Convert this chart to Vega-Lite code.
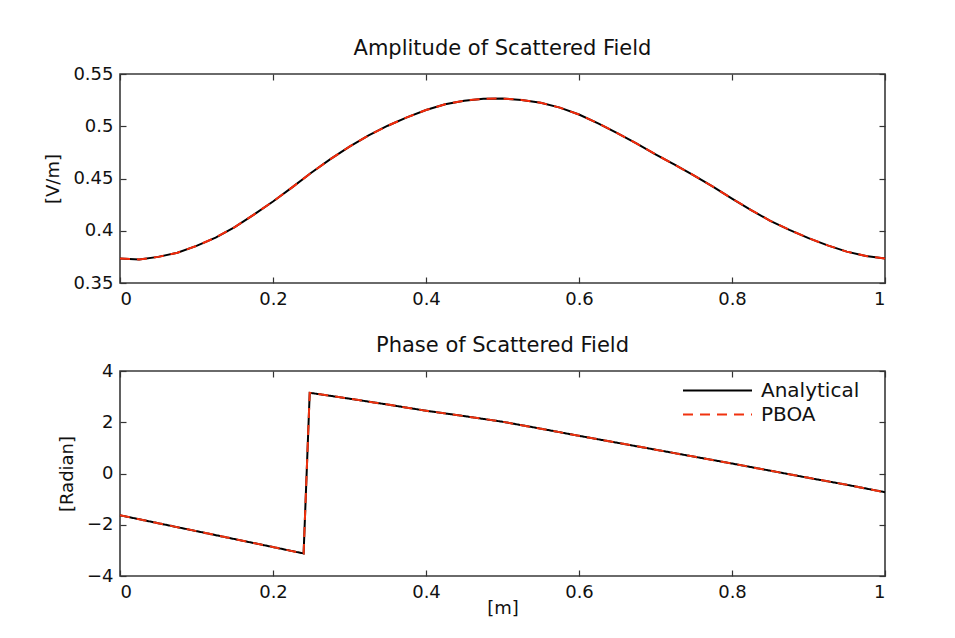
{
  "$schema": "https://vega.github.io/schema/vega-lite/v6.json",
  "background": "white",
  "padding": {"left": 44, "top": 37, "right": 10, "bottom": 5},
  "spacing": 25,
  "config": {
    "font": "DejaVu Sans",
    "view": {"stroke": "#3a3a3a", "strokeWidth": 1.6},
    "axis": {
      "grid": false,
      "domain": false,
      "ticks": true,
      "tickColor": "#333333",
      "tickSize": 6,
      "tickWidth": 1.2,
      "offset": -6,
      "labelFontSize": 18,
      "labelColor": "#111111",
      "labelPadding": 7,
      "titleFontSize": 18,
      "titleFontWeight": "normal",
      "titleColor": "#111111",
      "titlePadding": 10
    },
    "title": {"fontSize": 21, "fontWeight": "normal", "color": "#111111", "offset": 6}
  },
  "datasets": {
    "amp": [
      {"x": 0, "Analytical": 0.3735, "PBOA": 0.3735},
      {"x": 0.025, "Analytical": 0.3725, "PBOA": 0.3725},
      {"x": 0.05, "Analytical": 0.375, "PBOA": 0.375},
      {"x": 0.075, "Analytical": 0.379, "PBOA": 0.379},
      {"x": 0.1, "Analytical": 0.3855, "PBOA": 0.3855},
      {"x": 0.125, "Analytical": 0.3935, "PBOA": 0.3935},
      {"x": 0.15, "Analytical": 0.4035, "PBOA": 0.4035},
      {"x": 0.175, "Analytical": 0.4155, "PBOA": 0.4155},
      {"x": 0.2, "Analytical": 0.428, "PBOA": 0.428},
      {"x": 0.225, "Analytical": 0.4415, "PBOA": 0.4415},
      {"x": 0.25, "Analytical": 0.4555, "PBOA": 0.4555},
      {"x": 0.275, "Analytical": 0.4685, "PBOA": 0.4685},
      {"x": 0.3, "Analytical": 0.4805, "PBOA": 0.4805},
      {"x": 0.325, "Analytical": 0.4912, "PBOA": 0.4912},
      {"x": 0.35, "Analytical": 0.5005, "PBOA": 0.5005},
      {"x": 0.375, "Analytical": 0.5085, "PBOA": 0.5085},
      {"x": 0.4, "Analytical": 0.5155, "PBOA": 0.5155},
      {"x": 0.425, "Analytical": 0.521, "PBOA": 0.521},
      {"x": 0.45, "Analytical": 0.5245, "PBOA": 0.5245},
      {"x": 0.475, "Analytical": 0.5263, "PBOA": 0.5263},
      {"x": 0.5, "Analytical": 0.5265, "PBOA": 0.5265},
      {"x": 0.525, "Analytical": 0.5252, "PBOA": 0.5252},
      {"x": 0.55, "Analytical": 0.5225, "PBOA": 0.5225},
      {"x": 0.575, "Analytical": 0.5178, "PBOA": 0.5178},
      {"x": 0.6, "Analytical": 0.5112, "PBOA": 0.5112},
      {"x": 0.625, "Analytical": 0.5028, "PBOA": 0.5028},
      {"x": 0.65, "Analytical": 0.4935, "PBOA": 0.4935},
      {"x": 0.675, "Analytical": 0.4835, "PBOA": 0.4835},
      {"x": 0.7, "Analytical": 0.4732, "PBOA": 0.4732},
      {"x": 0.725, "Analytical": 0.4632, "PBOA": 0.4632},
      {"x": 0.75, "Analytical": 0.453, "PBOA": 0.453},
      {"x": 0.775, "Analytical": 0.4422, "PBOA": 0.4422},
      {"x": 0.8, "Analytical": 0.4308, "PBOA": 0.4308},
      {"x": 0.825, "Analytical": 0.4198, "PBOA": 0.4198},
      {"x": 0.85, "Analytical": 0.4095, "PBOA": 0.4095},
      {"x": 0.875, "Analytical": 0.4008, "PBOA": 0.4008},
      {"x": 0.9, "Analytical": 0.393, "PBOA": 0.393},
      {"x": 0.925, "Analytical": 0.386, "PBOA": 0.386},
      {"x": 0.95, "Analytical": 0.38, "PBOA": 0.38},
      {"x": 0.975, "Analytical": 0.3758, "PBOA": 0.3758},
      {"x": 1, "Analytical": 0.3735, "PBOA": 0.3735}
    ],
    "phase": [
      {"x": 0, "Analytical": -1.63, "PBOA": -1.63},
      {"x": 0.05, "Analytical": -1.94, "PBOA": -1.94},
      {"x": 0.1, "Analytical": -2.25, "PBOA": -2.25},
      {"x": 0.15, "Analytical": -2.56, "PBOA": -2.56},
      {"x": 0.2, "Analytical": -2.87, "PBOA": -2.87},
      {"x": 0.24, "Analytical": -3.12, "PBOA": -3.12},
      {"x": 0.248, "Analytical": 3.15, "PBOA": 3.15},
      {"x": 0.3, "Analytical": 2.92, "PBOA": 2.92},
      {"x": 0.35, "Analytical": 2.69, "PBOA": 2.69},
      {"x": 0.4, "Analytical": 2.45, "PBOA": 2.45},
      {"x": 0.45, "Analytical": 2.24, "PBOA": 2.24},
      {"x": 0.5, "Analytical": 2.02, "PBOA": 2.02},
      {"x": 0.55, "Analytical": 1.75, "PBOA": 1.75},
      {"x": 0.6, "Analytical": 1.47, "PBOA": 1.47},
      {"x": 0.65, "Analytical": 1.2, "PBOA": 1.2},
      {"x": 0.7, "Analytical": 0.93, "PBOA": 0.93},
      {"x": 0.75, "Analytical": 0.66, "PBOA": 0.66},
      {"x": 0.8, "Analytical": 0.39, "PBOA": 0.39},
      {"x": 0.85, "Analytical": 0.11, "PBOA": 0.11},
      {"x": 0.9, "Analytical": -0.17, "PBOA": -0.17},
      {"x": 0.95, "Analytical": -0.44, "PBOA": -0.44},
      {"x": 1, "Analytical": -0.73, "PBOA": -0.73}
    ]
  },
  "resolve": {"scale": {"color": "independent", "strokeDash": "independent"}, "legend": {"color": "independent", "strokeDash": "independent"}},
  "vconcat": [
    {
      "width": 765,
      "height": 209,
      "title": "Amplitude of Scattered Field",
      "data": {"name": "amp"},
      "transform": [{"fold": ["Analytical", "PBOA"], "as": ["series", "value"]}],
      "resolve": {"axis": {"x": "independent", "y": "independent"}},
      "layer": [
        {
          "transform": [{"filter": "datum.series === 'Analytical'"}],
          "mark": {"type": "line", "color": "#000000", "strokeWidth": 2},
          "encoding": {
            "x": {"field": "x", "type": "quantitative", "scale": {"domain": [0, 1], "nice": false}, "axis": {"orient": "bottom", "values": [0, 0.2, 0.4, 0.6, 0.8, 1], "format": "~g", "title": null}},
            "y": {"field": "value", "type": "quantitative", "scale": {"domain": [0.35, 0.55], "nice": false, "zero": false}, "axis": {"orient": "left", "values": [0.35, 0.4, 0.45, 0.5, 0.55], "format": ".2~f", "title": "[V/m]"}}
          }
        },
        {
          "transform": [{"filter": "datum.series === 'PBOA'"}],
          "mark": {"type": "line", "color": "#f52a0a", "strokeWidth": 2, "strokeDash": [10, 7]},
          "encoding": {
            "x": {"field": "x", "type": "quantitative", "axis": {"orient": "top", "values": [0, 0.2, 0.4, 0.6, 0.8, 1], "labels": false, "title": null}},
            "y": {"field": "value", "type": "quantitative", "axis": {"orient": "right", "values": [0.35, 0.4, 0.45, 0.5, 0.55], "labels": false, "title": null}}
          }
        }
      ]
    },
    {
      "width": 765,
      "height": 205,
      "title": "Phase of Scattered Field",
      "data": {"name": "phase"},
      "transform": [{"fold": ["Analytical", "PBOA"], "as": ["series", "value"]}],
      "resolve": {"axis": {"x": "independent", "y": "independent"}},
      "layer": [
        {
          "transform": [{"filter": "datum.series === 'Analytical'"}],
          "mark": {"type": "line", "strokeWidth": 2},
          "encoding": {
            "x": {"field": "x", "type": "quantitative", "scale": {"domain": [0, 1], "nice": false}, "axis": {"orient": "bottom", "values": [0, 0.2, 0.4, 0.6, 0.8, 1], "format": "~g", "title": "[m]", "titlePadding": -2}},
            "y": {"field": "value", "type": "quantitative", "scale": {"domain": [-4, 4], "nice": false}, "axis": {"orient": "left", "values": [-4, -2, 0, 2, 4], "format": "~g", "title": "[Radian]"}},
            "color": {"field": "series", "type": "nominal", "scale": {"domain": ["Analytical", "PBOA"], "range": ["#000000", "#f0320f"]}, "legend": {"orient": "none", "legendX": 585, "legendY": 7, "title": null, "symbolType": "M-3,0H3", "symbolSize": 529, "symbolStrokeWidth": 2, "labelFontSize": 20, "labelColor": "#111111", "labelOffset": 31, "rowPadding": 1}},
            "strokeDash": {"field": "series", "type": "nominal", "scale": {"domain": ["Analytical", "PBOA"], "range": [[1, 0], [10, 7]]}, "legend": {"orient": "none", "legendX": 585, "legendY": 7, "title": null, "symbolType": "M-3,0H3", "symbolSize": 529, "symbolStrokeWidth": 2, "labelFontSize": 20, "labelColor": "#111111", "labelOffset": 31, "rowPadding": 1}}
          }
        },
        {
          "transform": [{"filter": "datum.series === 'PBOA'"}],
          "mark": {"type": "line", "strokeWidth": 2},
          "encoding": {
            "x": {"field": "x", "type": "quantitative", "axis": {"orient": "top", "values": [0, 0.2, 0.4, 0.6, 0.8, 1], "labels": false, "title": null}},
            "y": {"field": "value", "type": "quantitative", "axis": {"orient": "right", "values": [-4, -2, 0, 2, 4], "labels": false, "title": null}},
            "color": {"field": "series", "type": "nominal"},
            "strokeDash": {"field": "series", "type": "nominal"}
          }
        }
      ]
    }
  ]
}
